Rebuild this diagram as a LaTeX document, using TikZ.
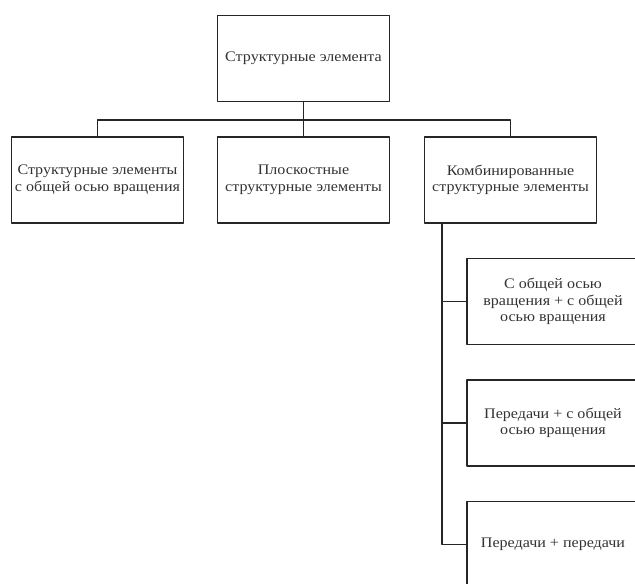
\documentclass[tikz,border=0pt]{standalone}
\usepackage{fontspec}
\setmainfont{Liberation Serif}[FakeStretch=1.1]
\begin{document}
\begin{tikzpicture}[x=1pt,y=-1pt,line join=round,line cap=round,
	font=\fontsize{14.6}{16.6}\selectfont,
	elem/.style={draw=black!85,line width=1.3pt,text=black!80,align=center,
		minimum width=172pt,minimum height=86pt,inner sep=2pt},
	link/.style={draw=black!85,line width=1.3pt}]
	\clip (0,0) rectangle (635,584);
	\path
	(303.5,58.5) node[elem] (root) {Структурные элемента}
	(97.5,180) node[elem] (a) {Структурные элементы\\с общей осью вращения}
	(303.5,180) node[elem] (b) {Плоскостные\\структурные элементы}
	(510.5,180) node[elem] (c) {Комбинированные\\структурные элементы}
	(553,301.5) node[elem] (d) {С общей осью\\вращения + с общей\\осью вращения}
	(553,423) node[elem] (e) {Передачи + с общей\\осью вращения}
	(553,544.5) node[elem] (f) {Передачи + передачи}
	(303.5,120) coordinate (bus)
	;
	\draw[link] (root.south)--(b.north);
	\draw[link] (a.north) |- (bus) -| (c.north);
	\draw[link] ([xshift=18]c.south west) coordinate (spine) |- (f.west);
	\foreach \n in {d,e}
	\draw[link] (spine |- \n.west)--(\n.west);
\end{tikzpicture}
\end{document}
